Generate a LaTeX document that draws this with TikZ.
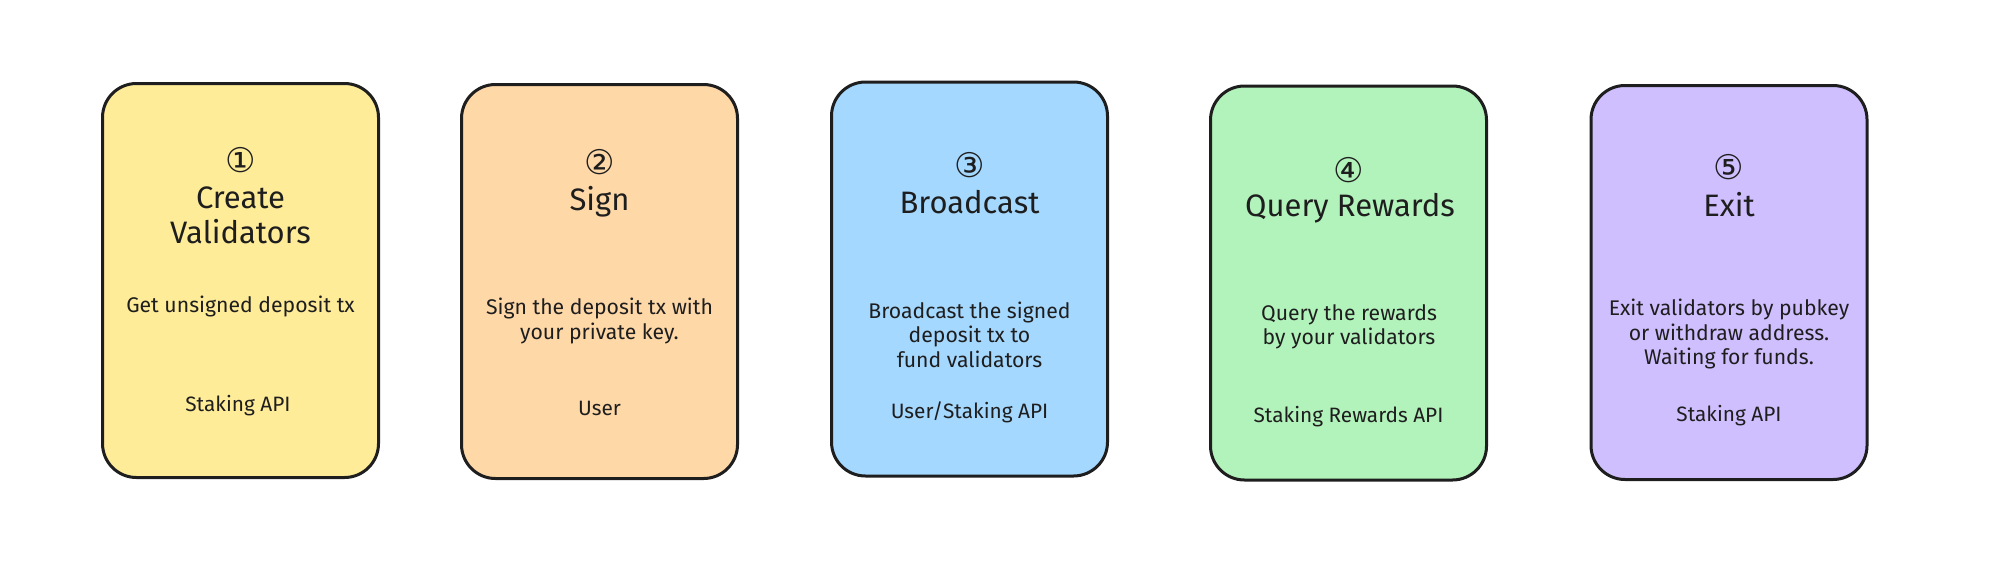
\documentclass[tikz,border=0pt]{standalone}
\usepackage{fontspec}
\setmainfont{Fira Sans}
\newfontfamily\circfont{DejaVu Sans}
\definecolor{ink}{HTML}{1E1E1E}
\definecolor{cardyellow}{HTML}{FFEC99}
\definecolor{cardorange}{HTML}{FFD8A8}
\definecolor{cardblue}{HTML}{A5D8FF}
\definecolor{cardgreen}{HTML}{B2F2BB}
\definecolor{cardviolet}{HTML}{D0BFFF}
\begin{document}
\begin{tikzpicture}[x=0.5pt,y=-0.5pt,
card/.style={draw=ink,line width=1.5pt,rounded corners=17pt,minimum width=138pt,minimum height=197pt},
num/.style={font=\circfont\fontsize{17}{20}\selectfont,text=ink},
title/.style={font=\fontsize{15.5}{17.5}\selectfont,align=center,text=ink},
desc/.style={font=\fontsize{10.6}{12.2}\selectfont,align=center,text=ink},
src/.style={font=\fontsize{10.4}{12}\selectfont,text=ink}]
\useasboundingbox (0,0) rectangle (2000,584);
% the five steps
\node[card,fill=cardyellow] (create) at (240.5,280.5) {};
\node[card,fill=cardorange] (sign) at (599.5,281.5) {};
\node[card,fill=cardblue] (broadcast) at (969.5,279) {};
\node[card,fill=cardgreen] (rewards) at (1348.5,283) {};
\node[card,fill=cardviolet] (exit) at (1729,282.5) {};
\node[num] (create-num) at (240.5,160) {①};
\node[title] (create-title) at (240.5,215.5) {Create\\Validators};
\node[desc] (create-desc) at (240.5,306) {Get unsigned deposit tx};
\node[src] (create-src) at (238,406) {Staking API};
\node[num] (sign-num) at (599.5,162) {②};
\node[title] (sign-title) at (599.5,202) {Sign};
\node[desc] (sign-desc) at (599.5,321) {Sign the deposit tx with\\your private key.};
\node[src] (sign-src) at (599.5,408) {User};
\node[num] (broadcast-num) at (969.5,165) {③};
\node[title] (broadcast-title) at (969.5,202) {Broadcast};
\node[desc] (broadcast-desc) at (969.5,334.5) {Broadcast the signed\\deposit tx to\\fund validators};
\node[src] (broadcast-src) at (969.5,412) {User/Staking API};
\node[num] (rewards-num) at (1348.5,170) {④};
\node[title] (rewards-title) at (1350,208) {Query Rewards};
\node[desc] (rewards-desc) at (1349,327) {Query the rewards\\by your validators};
\node[src] (rewards-src) at (1348.5,417) {Staking Rewards API};
\node[num] (exit-num) at (1729,167) {⑤};
\node[title] (exit-title) at (1729,205) {Exit};
\node[desc] (exit-desc) at (1729,334) {Exit validators by pubkey\\or withdraw address.\\Waiting for funds.};
\node[src] (exit-src) at (1729,416) {Staking API};
\end{tikzpicture}
\end{document}
